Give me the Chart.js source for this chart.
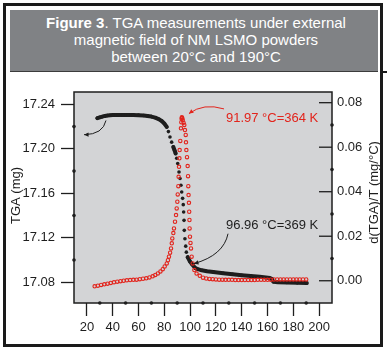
<!DOCTYPE html>
<html lang="en">
  <head>
    <meta charset="UTF-8" />
    <title>TGA under magnetic field</title>
    <style>
      * {
        margin: 0;
        padding: 0;
        box-sizing: border-box;
        font-family: "Liberation Sans", Arial, sans-serif;
      }
      body {
        width: 387px;
        height: 350px;
        background: #fff;
        position: relative;
        overflow: hidden;
      }
      .frame {
        position: absolute;
        left: 3px;
        top: 3px;
        width: 380px;
        height: 344px;
        border: 3px solid #1a1a1a;
      }
      .banner {
        position: absolute;
        left: 10px;
        top: 10px;
        width: 368px;
        height: 62px;
        background: #808285;
        border-bottom: 1px solid #3c3c3c;
        color: #fff;
        font-size: 15px;
        line-height: 17px;
        text-align: center;
        padding-top: 4px;
        padding-left: 4px;
      }
      .notch {
        position: absolute;
        left: 383px;
        top: 71px;
        width: 4px;
        height: 2px;
        background: #1a1a1a;
      }
      .chartBox {
        position: absolute;
        left: 0;
        top: 0;
      }
    </style>
  </head>
  <body>
    <div class="frame"></div>
    <div class="banner">
      <b>Figure 3</b>. TGA measurements under external<br />
      magnetic field of NM LSMO powders<br />
      between 20°C and 190°C
    </div>
    <div class="notch"></div>
    <canvas class="chartBox" id="myChart" width="387" height="350"></canvas>

    <script src="https://cdn.jsdelivr.net/npm/chart.js"></script>
    <script>
      // TGA mass (left axis)
      const tgaTemp = [
        28.1, 30, 32, 34, 36, 38, 40, 44, 48, 52, 56, 60, 64, 67, 70, 73, 76,
        78, 80, 81.9, 83.2, 84.4, 85.7, 87.0, 88.0, 88.8, 89.6, 90.4, 91.4,
        92.2, 92.9, 93.5, 94.2, 94.7, 95.0, 95.3, 95.5, 96.0, 96.6, 97.1, 98.1,
        99.9, 101.5, 103.8, 106, 109, 113, 118, 125.7, 133, 140, 147, 154,
        161.9, 163.3, 164.5, 168, 175, 183, 190.4,
      ];
      const tgaMass = [
        17.2276, 17.2283, 17.229, 17.2296, 17.23, 17.2302, 17.2304, 17.2305,
        17.2305, 17.2305, 17.2304, 17.2303, 17.23, 17.2296, 17.229, 17.228,
        17.2265, 17.225, 17.2228, 17.2197, 17.2155, 17.2107, 17.206, 17.2017,
        17.1985, 17.1958, 17.1915, 17.1868, 17.1792, 17.1733, 17.1672, 17.1612,
        17.1555, 17.1498, 17.1432, 17.1357, 17.1267, 17.1192, 17.1125, 17.1071,
        17.1026, 17.0987, 17.0963, 17.093, 17.0918, 17.0908, 17.09, 17.0893,
        17.0882, 17.0872, 17.0864, 17.0857, 17.0849, 17.0838, 17.0832, 17.0806,
        17.0801, 17.0798, 17.0795, 17.0793,
      ];

      // derivative d(TGA)/T (right axis)
      const dtgTemp = [
        26, 28.5, 31, 33.5, 36, 38.5, 41, 43.5, 46, 48.5, 51, 53.5, 56, 58.5,
        61, 63.5, 66, 68.5, 71, 73, 75, 77, 78.8, 80.3, 81.9, 82.8, 83.6, 84.5,
        85.2, 85.8, 86.2, 87.0, 87.5, 88.3, 89.1, 89.6, 90.1, 90.4, 90.9, 91.1,
        91.4, 91.7, 91.9, 92.4, 92.9, 93.2, 93.4, 93.6, 93.9, 94.3, 94.9, 95.5,
        96.0, 96.6, 96.8, 97.1, 97.6, 98.1, 98.4, 98.6, 98.8, 99.1, 99.3, 99.5,
        99.6, 99.9, 100.3, 100.7, 101.2, 102.0, 103.3, 105, 107.5, 110, 112.5,
        115, 117.5, 120, 122.5, 125, 127.5, 130, 132.5, 135, 137.5, 140, 142.5,
        145, 147.5, 150, 152.5, 155, 157.5, 160, 162.5, 165, 167.5, 170, 172.5,
        175, 177.5, 180, 182.5, 185, 187.5, 190,
      ];
      const dtgValue = [
        -0.0025, -0.0022, -0.0019, -0.0016, -0.0013, -0.001, -0.0007, -0.0004,
        -0.0002, 0.0, 0.0002, 0.0003, 0.0004, 0.0005, 0.0007, 0.0009, 0.0011,
        0.0015, 0.002, 0.0026, 0.0033, 0.0042, 0.0052, 0.0064, 0.0078, 0.0092,
        0.0108, 0.0126, 0.0145, 0.0168, 0.019, 0.0214, 0.0235, 0.0265, 0.0295,
        0.0325, 0.0355, 0.0388, 0.0425, 0.0467, 0.0512, 0.055, 0.0587, 0.0628,
        0.0685, 0.0712, 0.0728, 0.0735, 0.0731, 0.0722, 0.071, 0.07, 0.0677,
        0.0655, 0.0622, 0.0587, 0.0555, 0.0515, 0.047, 0.0425, 0.0385, 0.035,
        0.031, 0.0273, 0.0235, 0.0198, 0.017, 0.0145, 0.0108, 0.0078, 0.0048,
        0.0032, 0.0022, 0.0014, 0.001, 0.0008, 0.0007, 0.0006, 0.0005, 0.0005,
        0.0004, 0.0004, 0.0004, 0.0003, 0.0003, 0.0003, 0.0003, 0.0003, 0.0003,
        0.0003, 0.0004, 0.0004, 0.0004, 0.0004, 0.0005, 0.0006, 0.0006, 0.0006,
        0.0006, 0.0006, 0.0006, 0.0006, 0.0006, 0.0006, 0.0006, 0.0006,
      ];

      const xTicks = [20, 40, 60, 80, 100, 120, 140, 160, 180, 200];
      const xMinor = [30, 50, 70, 90, 110, 130, 150, 170, 190];
      const yTicks = [17.08, 17.12, 17.16, 17.2, 17.24];
      const yMinor = [17.1, 17.14, 17.18, 17.22];
      const y1Ticks = [0.0, 0.02, 0.04, 0.06, 0.08];
      const y1Minor = [0.01, 0.03, 0.05, 0.07];

      const RED = "#e2241c";
      const INK = "#1e1e1e";
      const FONT = '13px "Liberation Sans", Arial, sans-serif';

      function arrow(ctx, p0, c, p2, color) {
        ctx.strokeStyle = color;
        ctx.fillStyle = color;
        ctx.lineWidth = 1;
        ctx.beginPath();
        ctx.moveTo(p0[0], p0[1]);
        ctx.quadraticCurveTo(c[0], c[1], p2[0], p2[1]);
        ctx.stroke();
        const a = Math.atan2(p2[1] - c[1], p2[0] - c[0]);
        ctx.beginPath();
        ctx.moveTo(p2[0], p2[1]);
        ctx.lineTo(p2[0] - 5 * Math.cos(a - 0.45), p2[1] - 5 * Math.sin(a - 0.45));
        ctx.lineTo(p2[0] - 5 * Math.cos(a + 0.45), p2[1] - 5 * Math.sin(a + 0.45));
        ctx.closePath();
        ctx.fill();
      }

      const extras = {
        id: "extras",
        beforeDatasetsDraw(chart) {
          const { ctx, chartArea: { left, top, width, height } } = chart;
          ctx.save();
          ctx.fillStyle = "#d3d4d6";
          ctx.fillRect(left, top, width, height);
          ctx.restore();
        },
        afterDatasetsDraw(chart) {
          const {
            ctx,
            chartArea: { left, top, right, bottom, width, height },
            scales: { x, y, y1 },
          } = chart;
          ctx.save();
          ctx.strokeStyle = INK;
          ctx.lineWidth = 1.5;
          ctx.strokeRect(left, top, width, height);

          // inward ticks on the right axis
          ctx.lineWidth = 1.3;
          y1Ticks.forEach((v) => {
            const py = y1.getPixelForValue(v);
            ctx.beginPath();
            ctx.moveTo(right - 13, py);
            ctx.lineTo(right, py);
            ctx.stroke();
          });

          // minor ticks as dots
          ctx.fillStyle = INK;
          const dot = (px, py) => {
            ctx.beginPath();
            ctx.arc(px, py, 1.8, 0, Math.PI * 2);
            ctx.fill();
          };
          xMinor.forEach((v) => dot(x.getPixelForValue(v), bottom));
          yMinor.forEach((v) => dot(left, y.getPixelForValue(v)));
          y1Minor.forEach((v) => dot(right, y1.getPixelForValue(v)));

          // annotations
          ctx.font = FONT;
          ctx.textBaseline = "middle";
          ctx.textAlign = "left";
          ctx.fillStyle = RED;
          ctx.fillText("91.97 °C=364 K", x.getPixelForValue(127.8), y1.getPixelForValue(0.0731));
          arrow(
            ctx,
            [x.getPixelForValue(126.3), y1.getPixelForValue(0.0772)],
            [x.getPixelForValue(110.4), y1.getPixelForValue(0.08)],
            [x.getPixelForValue(99.1), y1.getPixelForValue(0.0751)],
            RED
          );
          ctx.fillStyle = INK;
          ctx.fillText("96.96 °C=369 K", x.getPixelForValue(127.8), y.getPixelForValue(17.1307));
          arrow(
            ctx,
            [x.getPixelForValue(129.4), y.getPixelForValue(17.1237)],
            [x.getPixelForValue(126.0), y.getPixelForValue(17.1043)],
            [x.getPixelForValue(103.0), y.getPixelForValue(17.0968)],
            INK
          );
          arrow(
            ctx,
            [x.getPixelForValue(34.8), y.getPixelForValue(17.2255)],
            [x.getPixelForValue(32.5), y.getPixelForValue(17.213)],
            [x.getPixelForValue(17.8), y.getPixelForValue(17.2127)],
            INK
          );

          // axis titles
          ctx.fillStyle = INK;
          ctx.textAlign = "center";
          ctx.save();
          ctx.translate(16, (top + bottom) / 2 - 2);
          ctx.rotate(-Math.PI / 2);
          ctx.fillText("TGA (mg)", 0, 0);
          ctx.restore();
          ctx.save();
          ctx.translate(374, (top + bottom) / 2 - 5);
          ctx.rotate(-Math.PI / 2);
          ctx.fillText("d(TGA)/T (mg/°C)", 0, 0);
          ctx.restore();
          ctx.restore();
        },
      };

      const tickFont = { family: '"Liberation Sans", Arial, sans-serif', size: 13 };

      const config = {
        type: "scatter",
        data: {
          datasets: [
            {
              label: "d(TGA)/T",
              yAxisID: "y1",
              data: dtgTemp.map((t, i) => ({ x: t, y: dtgValue[i] })),
              showLine: false,
              pointRadius: 1.7,
              pointBorderWidth: 1.1,
              pointBorderColor: RED,
              pointBackgroundColor: "rgba(0,0,0,0)",
            },
            {
              label: "TGA",
              yAxisID: "y",
              data: tgaTemp.map((t, i) => ({ x: t, y: tgaMass[i] })),
              showLine: true,
              borderColor: INK,
              borderWidth: 4,
              borderJoinStyle: "round",
              borderCapStyle: "round",
              pointRadius: 1.8,
              pointBorderWidth: 0,
              pointBackgroundColor: INK,
              segment: {
                borderColor: (c) =>
                  Math.abs(c.p1.y - c.p0.y) > 4.5 ? "rgba(0,0,0,0)" : undefined,
              },
            },
          ],
        },
        options: {
          responsive: false,
          animation: false,
          layout: { padding: { top: 92, left: 0, right: 0, bottom: 0 } },
          plugins: { legend: { display: false }, tooltip: { enabled: false } },
          scales: {
            x: {
              type: "linear",
              position: "bottom",
              min: 10,
              max: 210,
              afterBuildTicks: (s) => (s.ticks = xTicks.map((v) => ({ value: v }))),
              afterFit: (s) => (s.height = 47),
              grid: {
                drawOnChartArea: false,
                drawTicks: true,
                tickLength: 13,
                tickColor: INK,
                tickWidth: 1.3,
              },
              border: { display: false },
              ticks: { font: tickFont, color: INK, padding: 4, maxRotation: 0, autoSkip: false },
            },
            y: {
              position: "left",
              min: 17.0614,
              max: 17.2511,
              afterBuildTicks: (s) => (s.ticks = yTicks.map((v) => ({ value: v }))),
              afterFit: (s) => (s.width = 74),
              grid: {
                drawOnChartArea: false,
                drawTicks: true,
                tickLength: 13,
                tickColor: INK,
                tickWidth: 1.3,
              },
              border: { display: false },
              ticks: {
                font: tickFont,
                color: INK,
                padding: 6,
                autoSkip: false,
                callback: (v) => v.toFixed(2),
              },
            },
            y1: {
              position: "right",
              min: -0.01,
              max: 0.0848,
              afterBuildTicks: (s) => (s.ticks = y1Ticks.map((v) => ({ value: v }))),
              afterFit: (s) => (s.width = 55),
              grid: { display: false, drawTicks: false },
              border: { display: false },
              ticks: {
                font: tickFont,
                color: INK,
                padding: 5,
                autoSkip: false,
                callback: (v) => v.toFixed(2),
              },
            },
          },
        },
        plugins: [extras],
      };

      const myChart = new Chart(document.getElementById("myChart"), config);
    </script>
  </body>
</html>
